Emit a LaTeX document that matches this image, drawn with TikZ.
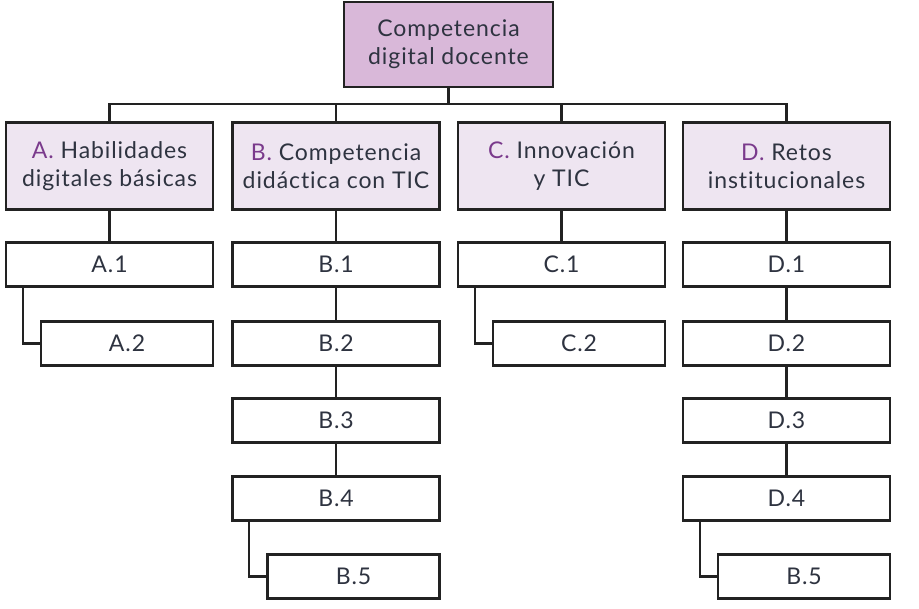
\documentclass[tikz,border=0pt]{standalone}
\usepackage{fontspec}
\setmainfont{Lato}[LetterSpace=4,Ligatures=NoCommon]
\definecolor{topfill}{HTML}{D9B8D9}
\definecolor{catfill}{HTML}{EEE5F1}
\definecolor{letter}{HTML}{7A3A8C}
\definecolor{txt}{HTML}{2E3340}
\definecolor{edge}{HTML}{222222}
\begin{document}
\begin{tikzpicture}[x=1pt,y=-1pt,
  every node/.style={text=txt,font=\fontsize{23}{28}\selectfont},
  topbox/.style={draw=edge,line width=2.5pt,fill=topfill,minimum width=209pt,minimum height=85pt,align=center,inner sep=0pt},
  catbox/.style={draw=edge,line width=2.5pt,fill=catfill,minimum width=207pt,minimum height=87pt,align=center,inner sep=0pt},
  subbox/.style={draw=edge,line width=2.5pt,fill=white,minimum width=207pt,minimum height=44pt,inner sep=0pt},
  indbox/.style={draw=edge,line width=2.5pt,fill=white,minimum width=172pt,minimum height=44pt,inner sep=0pt},
  conn/.style={draw=edge,line width=2.2pt}]
\useasboundingbox (0,0) rectangle (919,609);
% top
\node[topbox] (top) at (448.5,44.5) {Competencia\\digital docente};
% categories
\node[catbox] (A) at (109.5,166) {\textcolor{letter}{A.} Habilidades\\digitales básicas};
\node[catbox] (B) at (336,166) {\textcolor{letter}{B.} Competencia\\didáctica con TIC};
\node[catbox] (C) at (561.5,166) {\textcolor{letter}{C.} Innovación\\y TIC};
\node[catbox] (D) at (786.5,166) {\textcolor{letter}{D.} Retos\\institucionales};
% bus
\coordinate (bus) at (448.5,104);
\draw[conn] (top.south) -- (bus);
\draw[conn] (A.north) |- (bus) -| (D.north);
\draw[conn] (B.north) -- (B.north |- bus);
\draw[conn] (C.north) -- (C.north |- bus);
% column A
\node[subbox] (A1) at (109.5,264.5) {A.1};
\node[indbox] (A2) at (127,343.5) {A.2};
\draw[conn] (A.south) -- (A1.north);
\draw[conn] ([xshift=18pt]A1.south west) |- (A2.west);
% column B
\node[subbox] (B1) at (336,264.5) {B.1};
\node[subbox] (B2) at (336,343.5) {B.2};
\node[subbox] (B3) at (336,420.5) {B.3};
\node[subbox] (B4) at (336,498.5) {B.4};
\node[indbox] (B5) at (353.5,576.5) {B.5};
\draw[conn] (B.south) -- (B1.north);
\draw[conn] (B1.south) -- (B2.north);
\draw[conn] (B2.south) -- (B3.north);
\draw[conn] (B3.south) -- (B4.north);
\draw[conn] ([xshift=18pt]B4.south west) |- (B5.west);
% column C
\node[subbox] (C1) at (561.5,264.5) {C.1};
\node[indbox] (C2) at (579,343.5) {C.2};
\draw[conn] (C.south) -- (C1.north);
\draw[conn] ([xshift=18pt]C1.south west) |- (C2.west);
% column D
\node[subbox] (D1) at (786.5,264.5) {D.1};
\node[subbox] (D2) at (786.5,343.5) {D.2};
\node[subbox] (D3) at (786.5,420.5) {D.3};
\node[subbox] (D4) at (786.5,498.5) {D.4};
\node[indbox] (D5) at (804,576.5) {B.5};
\draw[conn] (D.south) -- (D1.north);
\draw[conn] (D1.south) -- (D2.north);
\draw[conn] (D2.south) -- (D3.north);
\draw[conn] (D3.south) -- (D4.north);
\draw[conn] ([xshift=18pt]D4.south west) |- (D5.west);
\end{tikzpicture}
\end{document}
